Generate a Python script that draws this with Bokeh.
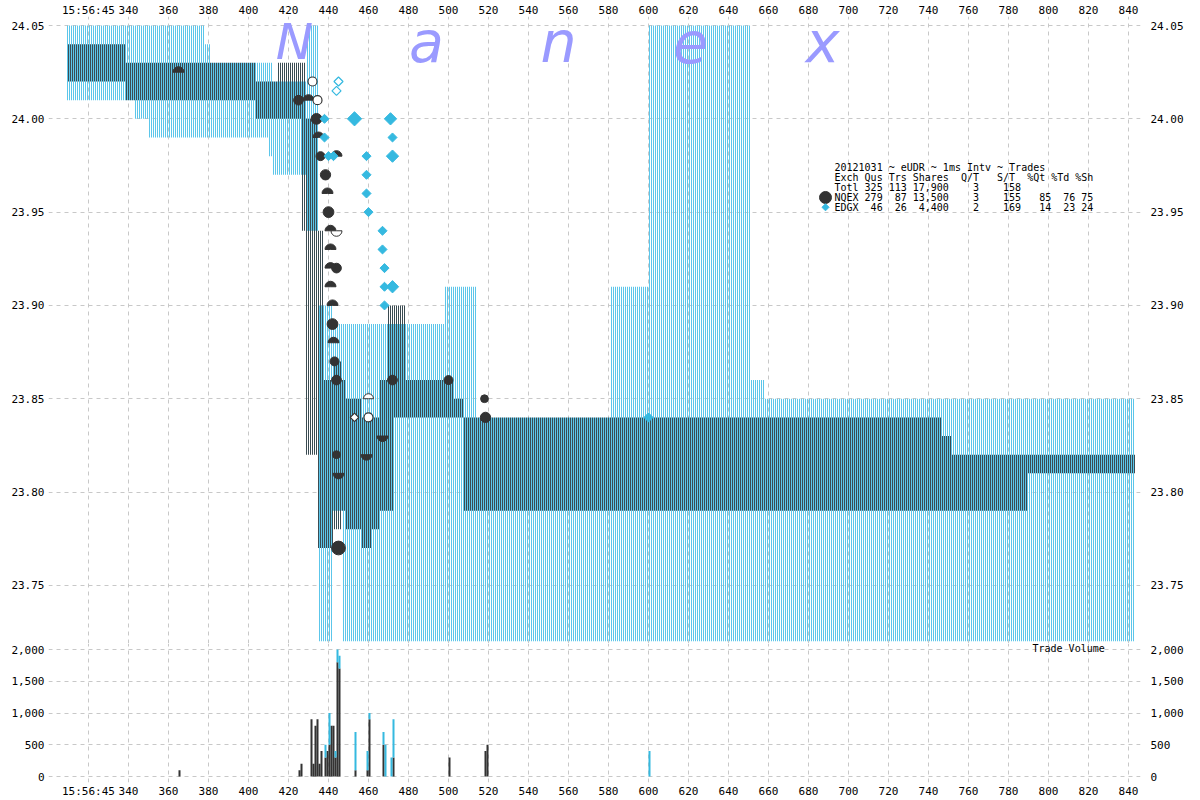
import numpy as np
from bokeh.plotting import figure
from bokeh.layouts import column
from bokeh.models import Range1d, FixedTicker, LinearAxis, NumeralTickFormatter
from bokeh.core.properties import value
from bokeh.embed import file_html
from bokeh.resources import INLINE

# ---------------- data ----------------
# time axis: milliseconds after 15:56:45
x_ticks = [320, 340, 360, 380, 400, 420, 440, 460, 480, 500, 520, 540, 560, 580, 600,
           620, 640, 660, 680, 700, 720, 740, 760, 780, 800, 820, 840]
x_tick_labels = ["15:56:45", "340", "360", "380", "400", "420", "440", "460", "480", "500",
                 "520", "540", "560", "580", "600", "620", "640", "660", "680", "700",
                 "720", "740", "760", "780", "800", "820", "840"]
price_ticks = [23.75, 23.80, 23.85, 23.90, 23.95, 24.00, 24.05]
vol_ticks = [0, 500, 1000, 1500, 2000]

# EDGX quote band (step changes: start ms, bid, ask)
edgx_t = [309, 342.5, 350, 378, 381, 410, 411.5, 426, 428.5, 434.5, 442, 446.5,
          497.5, 514, 581, 600, 651, 657.5]
edgx_lo = [24.01, 24.00, 23.99, 23.99, 23.99, 23.98, 23.97, 23.97, 23.94, 23.72, 23.79, 23.72,
           23.72, 23.72, 23.72, 23.72, 23.72, 23.72]
edgx_hi = [24.05, 24.05, 24.05, 24.04, 24.03, 24.03, 24.02, 24.02, 24.05, 23.90, 23.89, 23.89,
           23.91, 23.84, 23.91, 24.05, 23.86, 23.85]

# NQEX quote band
nqex_t = [309, 338.5, 403, 414, 426, 428.5, 434.5, 437.5, 442, 446.5, 448.5, 456, 461,
          465, 469.5, 472.5, 478.5, 502.5, 507.5, 746, 751, 789]
nqex_lo = [24.02, 24.01, 24.00, 24.00, 23.94, 23.82, 23.77, 23.77, 23.78, 23.79, 23.78, 23.77,
           23.78, 23.79, 23.79, 23.84, 23.84, 23.84, 23.79, 23.79, 23.79, 23.81]
nqex_hi = [24.04, 24.03, 24.02, 24.03, 24.03, 24.00, 23.94, 23.86, 23.87, 23.86, 23.85, 23.84,
           23.84, 23.86, 23.90, 23.90, 23.86, 23.85, 23.84, 23.83, 23.82, 23.82]
band_end = 843

# NQEX trades (full circles)
nq_dot_t = [425, 434, 436, 438.5, 440, 444, 442, 443, 444, 472, 500, 518, 518.5, 444, 445]
nq_dot_p = [24.01, 24.00, 23.98, 23.97, 23.95, 23.92, 23.89, 23.87, 23.86, 23.86, 23.86,
            23.85, 23.84, 23.82, 23.77]
nq_dot_sh = [300, 500, 200, 400, 500, 300, 500, 200, 300, 300, 200, 100, 400, 100, 1700]
# NQEX trades drawn as upper / lower half circles
nq_up_t = [365, 430, 435, 444, 439.5, 441, 441, 441, 441, 442, 442.5]
nq_up_p = [24.025, 24.01, 23.99, 23.98, 23.96, 23.94, 23.93, 23.92, 23.91, 23.90, 23.88]
nq_dn_t = [467, 459, 445]
nq_dn_p = [23.83, 23.82, 23.81]
# hollow trade marks
hol_circ_t = [432, 434.5, 460]
hol_circ_p = [24.02, 24.01, 23.84]
hol_dn_t = [444]
hol_dn_p = [23.94]
hol_up_t = [460]
hol_up_p = [23.85]
hol_dia_t = [453]
hol_dia_p = [23.84]

# EDGX trades (diamonds)
ed_t = [438, 453, 471, 438, 472, 440, 442.5, 459, 472, 459, 459, 460, 467, 467, 468, 468,
        472, 468, 600]
ed_p = [24.00, 24.00, 24.00, 23.99, 23.99, 23.98, 23.98, 23.98, 23.98, 23.97, 23.96, 23.95,
        23.94, 23.93, 23.92, 23.91, 23.91, 23.90, 23.84]
ed_sh = [100, 500, 300, 100, 100, 100, 100, 100, 300, 100, 100, 100, 100, 100, 100, 100,
         300, 100, 100]
ed_hol_t = [445, 444]
ed_hol_p = [24.02, 24.015]

# trade volume per ms
vol_t = [365, 425, 426, 431, 432, 433, 434, 435, 436, 438, 439, 440, 441, 442, 443, 444,
         445, 453, 459, 460, 467, 468, 471, 472, 500, 518, 519, 600]
vol_nqex = [100, 100, 200, 900, 200, 800, 900, 200, 400, 300, 400, 500, 800, 800, 300, 1800,
            1700, 100, 100, 900, 500, 0, 0, 300, 300, 400, 500, 0]
vol_edgx = [0, 0, 0, 0, 0, 0, 0, 0, 0, 200, 0, 500, 0, 0, 100, 200,
            200, 600, 300, 100, 200, 500, 300, 600, 0, 0, 0, 400]

watermark = ["N", "a", "n", "e", "x"]
legend_lines = ["20121031 ~ eUDR ~ 1ms Intv ~ Trades",
                "Exch Qus Trs Shares  Q/T   S/T  %Qt %Td %Sh",
                "Totl 325 113 17,900    3    158",
                "NQEX 279  87 13,500    3    155   85  76 75",
                "EDGX  46  26  4,400    2    169   14  23 24"]

# ---------------- style ----------------
BLUE_BAND = "#5cc6ea"
DARK_BAND = "#3b4b51"
DARK = "#333333"
BLUE = "#35b9e0"
GRID = "#c8c8c8"
MONO = "DejaVu Sans Mono"

W = 1200
X0, X1 = 300, 846
PX_PER_DOLLAR = 1860
PRICE_HI = 24.05 + 9 / PX_PER_DOLLAR
PRICE_LO = PRICE_HI - 625 / PX_PER_DOLLAR


def style_axis(ax, standoff):
    ax.axis_line_color = None
    ax.major_tick_line_color = None
    ax.minor_tick_line_color = None
    ax.major_tick_out = 0
    ax.major_tick_in = 0
    ax.major_label_standoff = standoff
    ax.major_label_text_font = MONO
    ax.major_label_text_font_size = "11px"
    ax.major_label_text_color = "black"


overrides = {t: l for t, l in zip(x_ticks, x_tick_labels)}

# ---------------- price panel ----------------
p = figure(width=W, height=643, x_range=Range1d(X0, X1), y_range=Range1d(PRICE_LO, PRICE_HI),
           x_axis_location="above", toolbar_location=None, output_backend="svg",
           min_border_left=48, min_border_right=60, min_border_top=0, min_border_bottom=0,
           outline_line_color=None)
p.xaxis.ticker = FixedTicker(ticks=x_ticks)
p.xaxis.major_label_overrides = overrides
style_axis(p.xaxis[0], 0)
p.yaxis.ticker = FixedTicker(ticks=price_ticks)
p.yaxis.formatter = NumeralTickFormatter(format="0.00")
style_axis(p.yaxis[0], 4)
ry = LinearAxis(ticker=FixedTicker(ticks=price_ticks), formatter=NumeralTickFormatter(format="0.00"))
style_axis(ry, 10)
p.add_layout(ry, "right")
for g in (p.xgrid[0], p.ygrid[0]):
    g.grid_line_color = GRID
    g.grid_line_dash = "4 4"
p.xgrid.ticker = FixedTicker(ticks=x_ticks)
p.ygrid.ticker = FixedTicker(ticks=price_ticks)

# quote bands: one 1-px stripe per millisecond for each exchange
ms = np.arange(edgx_t[0], band_end)
ei = np.searchsorted(np.array(edgx_t), ms, side="right") - 1
ni = np.searchsorted(np.array(nqex_t), ms + 0.5, side="right") - 1
e_lo, e_hi = np.array(edgx_lo)[ei], np.array(edgx_hi)[ei]
n_lo, n_hi = np.array(nqex_lo)[ni], np.array(nqex_hi)[ni]
p.quad(left=ms + 0.25, right=ms + 0.75, bottom=e_lo, top=e_hi, fill_color=BLUE_BAND,
       line_color=None)
p.quad(left=ms + 0.75, right=ms + 1.25, bottom=n_lo, top=n_hi, fill_color=DARK_BAND,
       line_color=None)

# watermark (capital drawn a little smaller than the lower-case letters)
wm_x = [423 + i * 66 for i in range(len(watermark))]
wm_y = [24.05 - 16 / PX_PER_DOLLAR] * len(watermark)
wm_size = ["50px" if c.isupper() else "57px" for c in watermark]
p.text(x=wm_x, y=wm_y, text=watermark, text_font=value("DejaVu Sans"),
       text_font_style="italic", text_font_size=wm_size, text_color="#9a9aff",
       text_align="center", text_baseline="middle")

# NQEX trades
dot_size = [7.8 * (s / 100) ** 0.2 for s in nq_dot_sh]
p.scatter(x=nq_dot_t, y=nq_dot_p, size=dot_size, marker="circle", fill_color=DARK,
          line_color=DARK)
p.wedge(x=nq_up_t, y=nq_up_p, radius=5.5, radius_units="screen", start_angle=0,
        end_angle=np.pi, fill_color=DARK, line_color=DARK)
p.wedge(x=nq_dn_t, y=nq_dn_p, radius=5.5, radius_units="screen", start_angle=np.pi,
        end_angle=2 * np.pi, fill_color=DARK, line_color=DARK)
p.scatter(x=hol_circ_t, y=hol_circ_p, size=9, marker="circle", fill_color="white",
          line_color=DARK, line_width=1.2)
p.wedge(x=hol_dn_t, y=hol_dn_p, radius=5.5, radius_units="screen", start_angle=np.pi,
        end_angle=2 * np.pi, fill_color="white", line_color=DARK)
p.wedge(x=hol_up_t, y=hol_up_p, radius=5, radius_units="screen", start_angle=0,
        end_angle=np.pi, fill_color="white", line_color=DARK)
p.scatter(x=hol_dia_t, y=hol_dia_p, size=6, marker="square", angle=np.pi / 4,
          fill_color="white", line_color=DARK, line_width=1.2)

# EDGX trades
dia_size = [6.4 * (s / 100) ** 0.28 for s in ed_sh]
p.scatter(x=ed_t, y=ed_p, size=dia_size, marker="square", angle=np.pi / 4,
          fill_color=BLUE, line_color=BLUE)
p.scatter(x=ed_hol_t, y=ed_hol_p, size=6.4, marker="square", angle=np.pi / 4,
          fill_color="white", line_color=BLUE, line_width=1.2)

# legend block (non-breaking spaces keep the column alignment)
leg_text = [s.replace(" ", "\u00a0") for s in legend_lines]
leg_x = 693
leg_y0 = 24.05 - 142 / PX_PER_DOLLAR
leg_dy = 9.8 / PX_PER_DOLLAR
leg_y = [leg_y0 - i * leg_dy for i in range(len(leg_text))]
p.text(x=[leg_x] * len(leg_text), y=leg_y, text=leg_text, text_font=value(MONO),
       text_font_size="10px", text_color="black", text_align="left", text_baseline="middle")
p.scatter(x=[688.5], y=[leg_y[3]], size=12, marker="circle", fill_color=DARK, line_color=DARK)
p.scatter(x=[688.5], y=[leg_y[4]], size=5, marker="square", angle=np.pi / 4,
          fill_color=BLUE, line_color=BLUE)

# ---------------- volume panel ----------------
VOL_PX = 127 / 2000
v_top = 2000 + 6 / VOL_PX
v_bot = v_top - 139 / VOL_PX
v = figure(width=W, height=157, x_range=p.x_range, y_range=Range1d(v_bot, v_top),
           toolbar_location=None, output_backend="svg",
           min_border_left=48, min_border_right=60, min_border_top=0, min_border_bottom=0,
           outline_line_color=None)
v.xaxis.ticker = FixedTicker(ticks=x_ticks)
v.xaxis.major_label_overrides = overrides
style_axis(v.xaxis[0], 2)
v.yaxis.ticker = FixedTicker(ticks=vol_ticks)
v.yaxis.formatter = NumeralTickFormatter(format="0,0")
style_axis(v.yaxis[0], 4)
vr = LinearAxis(ticker=FixedTicker(ticks=vol_ticks), formatter=NumeralTickFormatter(format="0,0"))
style_axis(vr, 10)
v.add_layout(vr, "right")
for g in (v.xgrid[0], v.ygrid[0]):
    g.grid_line_color = GRID
    g.grid_line_dash = "4 4"
v.xgrid.ticker = FixedTicker(ticks=x_ticks)
v.ygrid.ticker = FixedTicker(ticks=vol_ticks)

vt = np.array(vol_t) + 0.5
vn = np.array(vol_nqex)
ve = np.array(vol_edgx)
v.vbar(x=vt, width=1, bottom=0, top=vn, fill_color=DARK, line_color=None)
v.vbar(x=vt, width=1, bottom=vn, top=vn + ve, fill_color=BLUE, line_color=None)
v.text(x=[792], y=[2000 + 1 / VOL_PX], text=["Trade\u00a0Volume"], text_font=value(MONO),
       text_font_size="10px", text_color="black", text_align="left", text_baseline="middle")

layout = column(p, v, spacing=0)
open("out.html", "w").write(file_html(layout, INLINE))
